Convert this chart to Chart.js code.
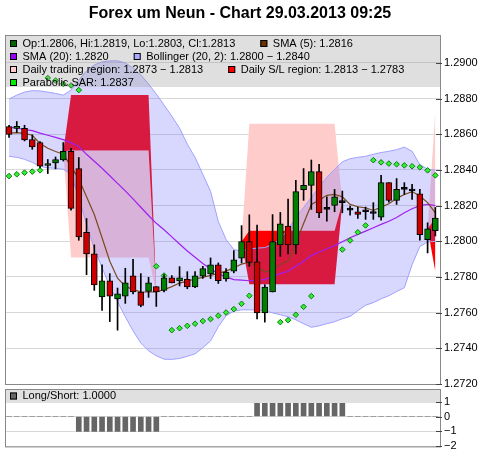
<!DOCTYPE html>
<html>
<head>
<meta charset="utf-8">
<title>Forex um Neun</title>
<script src="https://cdn.jsdelivr.net/npm/chart.js@4.4.1/dist/chart.umd.min.js"></script>
<style>
  html, body { margin: 0; padding: 0; background: #fff; }
  #box { position: relative; width: 480px; height: 457px; }
  #box canvas { position: absolute; left: 0; top: 0; }
</style>
</head>
<body>
<div id="box">
  <canvas id="price" width="480" height="457"></canvas>
  <canvas id="signal" width="480" height="457"></canvas>
</div>
<script>
const chartTitle = "Forex um Neun - Chart 29.03.2013 09:25";

// hourly EUR/USD bars, oldest first
const opens = [1.28644,1.28633,1.28633,1.28571,1.28554,1.28425,1.28439,1.28456,1.28505,1.28408,
  1.28050,1.27930,1.27688,1.27778,1.27677,1.27693,1.27806,1.27716,1.27719,1.27746,
  1.27725,1.27796,1.27778,1.27789,1.27744,1.27804,1.27817,1.27868,1.27789,1.27832,
  1.27905,1.27999,1.27885,1.27598,1.27716,1.27980,1.28085,1.27980,1.28290,1.28314,
  1.28391,1.28179,1.28201,1.28217,1.28175,1.28166,1.28166,1.28156,1.28136,1.28329,
  1.28230,1.28291,1.28282,1.28267,1.28010,1.28060];
const highs = [1.28651,1.28672,1.28651,1.28597,1.28560,1.28459,1.28473,1.28554,1.28522,1.28470,
  1.28128,1.27980,1.27868,1.27819,1.27738,1.27849,1.27899,1.27819,1.27798,1.27746,
  1.27813,1.27808,1.27858,1.27830,1.27830,1.27860,1.27907,1.27879,1.27847,1.27948,
  1.28088,1.28149,1.28091,1.27757,1.28150,1.28162,1.28237,1.28342,1.28408,1.28456,
  1.28432,1.28250,1.28291,1.28282,1.28197,1.28192,1.28192,1.28217,1.28370,1.28329,
  1.28352,1.28329,1.28320,1.28291,1.28104,1.28190];
const lows = [1.28582,1.28610,1.28563,1.28516,1.28411,1.28380,1.28406,1.28450,1.28175,1.28006,
  1.27813,1.27725,1.27612,1.27550,1.27502,1.27652,1.27705,1.27633,1.27686,1.27635,
  1.27716,1.27767,1.27750,1.27734,1.27740,1.27792,1.27791,1.27764,1.27776,1.27823,
  1.27879,1.27860,1.27565,1.27547,1.27716,1.27916,1.27930,1.27930,1.28230,1.28179,
  1.28132,1.28113,1.28166,1.28160,1.28147,1.28128,1.28123,1.28123,1.28119,1.28220,
  1.28207,1.28263,1.28235,1.28006,1.27935,1.28030];
const closes = [1.28599,1.28642,1.28569,1.28529,1.28421,1.28432,1.28459,1.28505,1.28185,1.28025,
  1.27930,1.27755,1.27778,1.27693,1.27705,1.27767,1.27716,1.27640,1.27767,1.27716,
  1.27795,1.27767,1.27796,1.27744,1.27806,1.27847,1.27868,1.27779,1.27828,1.27896,
  1.27999,1.27882,1.27598,1.27744,1.27999,1.28098,1.27980,1.28279,1.28314,1.28391,
  1.28160,1.28179,1.28250,1.28217,1.28175,1.28151,1.28166,1.28156,1.28329,1.28230,
  1.28291,1.28291,1.28282,1.28038,1.28070,1.28130];

const sma5 = [1.28607,1.28610,1.28605,1.28595,1.28549,1.28522,1.28504,1.28488,1.28420,1.28350,
  1.28250,1.28150,1.28020,1.27888,1.27793,1.27748,1.27729,1.27717,1.27716,1.27716,
  1.27729,1.27746,1.27766,1.27777,1.27789,1.27798,1.27809,1.27820,1.27833,1.27852,
  1.27872,1.27883,1.27856,1.27828,1.27844,1.27870,1.27889,1.27990,1.28100,1.28207,
  1.28230,1.28258,1.28263,1.28250,1.28207,1.28194,1.28188,1.28173,1.28192,1.28211,
  1.28241,1.28263,1.28279,1.28254,1.28217,1.28160];
const sma20 = [1.28640,1.28634,1.28627,1.28621,1.28607,1.28595,1.28583,1.28570,1.28552,1.28532,
  1.28488,1.28449,1.28410,1.28368,1.28325,1.28283,1.28238,1.28191,1.28145,1.28101,
  1.28065,1.28025,1.27985,1.27946,1.27911,1.27876,1.27846,1.27818,1.27801,1.27785,
  1.27782,1.27779,1.27782,1.27785,1.27804,1.27819,1.27832,1.27860,1.27888,1.27920,
  1.27940,1.27957,1.27976,1.27998,1.28020,1.28039,1.28057,1.28076,1.28095,1.28113,
  1.28134,1.28160,1.28183,1.28200,1.28207,1.28200];
const bandUpper = [1.28798,1.28820,1.28837,1.28845,1.28843,1.28837,1.28829,1.28820,1.28848,1.28905,
  1.28955,1.28989,1.29006,1.29012,1.29012,1.29000,1.28972,1.28933,1.28882,1.28826,
  1.28764,1.28702,1.28635,1.28545,1.28471,1.28376,1.28280,1.28111,1.28010,1.27954,
  1.27945,1.27957,1.27962,1.27965,1.27982,1.28016,1.28066,1.28134,1.28190,1.28246,
  1.28303,1.28359,1.28404,1.28446,1.28463,1.28471,1.28477,1.28488,1.28498,1.28505,
  1.28514,1.28528,1.28505,1.28430,1.28405,1.28400];
const bandLower = [1.28477,1.28471,1.28460,1.28443,1.28421,1.28412,1.28410,1.28404,1.28376,1.28246,
  1.28095,1.27960,1.27853,1.27746,1.27661,1.27577,1.27498,1.27430,1.27386,1.27358,
  1.27339,1.27338,1.27343,1.27355,1.27369,1.27403,1.27442,1.27521,1.27583,1.27608,
  1.27616,1.27616,1.27616,1.27611,1.27599,1.27588,1.27577,1.27560,1.27538,1.27518,
  1.27526,1.27538,1.27549,1.27566,1.27579,1.27611,1.27642,1.27656,1.27678,1.27695,
  1.27718,1.27740,1.27869,1.27971,1.27996,1.28000];
// parabolic SAR, null where the dot sits under a trading window
const sar = [1.28366,1.28376,1.28385,1.28391,1.28398,1.28916,1.28902,1.28883,1.28874,1.28848,
  null,null,null,null,null,null,null,null,null,1.27860,
  1.27808,1.27502,1.27513,1.27526,1.27538,1.27553,1.27564,1.27583,1.27601,1.27620,
  1.27650,1.27695,null,null,null,1.27547,1.27558,1.27588,1.27633,1.27693,
  null,null,null,1.27954,1.28005,1.28051,1.28089,1.28455,1.28443,1.28436,
  1.28432,1.28426,1.28421,1.28415,1.28398,1.28370];

const longShort = [0,0,0,0,0,0,0,0,0,-1,
  -1,-1,-1,-1,-1,-1,-1,-1,-1,-1,
  0,0,0,0,0,0,0,0,0,0,
  0,0,1,1,1,1,1,1,1,1,
  1,1,1,1,0,0,0,0,0,0,
  0,0,0,0,0,0];
const signalNow = 1;

// daily trading windows: first/last bar (null = still open), levels
const windowStart = [7, 30, 54];
const windowEnd = [19, 43, null];
const targetLevel = [1.2791, 1.2866, 1.2873];
const entryLevel = [1.2851, 1.2806, 1.2813];
const stopLevel = [1.2882, 1.2776, 1.2783];

const priceTicks = { min: 1.2720, max: 1.29157, step: 0.002 };
const signalTicks = { min: -2, max: 1.84, step: 1 };

const FONT = "'Liberation Sans', Arial, sans-serif";
Chart.defaults.font.family = FONT;
Chart.defaults.font.size = 11;
Chart.defaults.color = '#000';

const bars = opens.map((_, i) => i);
const xy = arr => arr.map((v, i) => ({ x: i, y: v }));
const last = arr => arr[arr.length - 1];
const f4 = v => v.toFixed(4);

// window bounds: each window starts and ends pinched at that bar's close
const tradeA = bars.map(() => null), tradeB = bars.map(() => null);
const slA = bars.map(() => null), slB = bars.map(() => null);
windowStart.forEach((s, w) => {
  const open = windowEnd[w] === null;
  const e = open ? bars.length - 1 : windowEnd[w];
  for (let i = s; i <= e; i++) {
    const pinch = i === s || (i === e && !open);
    tradeA[i] = pinch ? closes[i] : targetLevel[w];
    tradeB[i] = pinch ? closes[i] : entryLevel[w];
    slA[i] = pinch ? closes[i] : stopLevel[w];
    slB[i] = pinch ? closes[i] : entryLevel[w];
  }
});

const bodyColors = bars.map(i =>
  closes[i] > opens[i] ? '#008000' : closes[i] < opens[i] ? '#cc0000' : '#000');

const nw = bars.length - 1;
const lastWin = windowStart.length - 1;
const legendRows = [
  [['#006600', 'Op:' + f4(opens[nw]) + ', Hi:' + f4(highs[nw]) + ', Lo:' + f4(lows[nw]) + ', Cl:' + f4(closes[nw])],
   ['#663300', 'SMA (5): ' + f4(last(sma5))]],
  [['#9900ff', 'SMA (20): ' + f4(last(sma20))],
   ['#aaaaff', 'Bollinger (20, 2): ' + f4(last(bandLower)) + ' \u2212 ' + f4(last(bandUpper))]],
  [['#ffcccc', 'Daily trading region: ' + f4(targetLevel[lastWin]) + ' \u2212 ' + f4(entryLevel[lastWin])],
   ['#ff0000', 'Daily S/L region: ' + f4(entryLevel[lastWin]) + ' \u2212 ' + f4(stopLevel[lastWin])]],
  [['#00ee00', 'Parabolic SAR: ' + f4(last(sar))]]
];

function drawKey(ctx, x, y, color) {
  ctx.fillStyle = color;
  ctx.fillRect(x, y - 3.5, 7, 7);
  ctx.strokeStyle = '#000';
  ctx.lineWidth = 1;
  ctx.strokeRect(x + 0.5, y - 3, 6, 6);
}

function drawFrame(ctx, a, scale) {
  ctx.strokeStyle = '#888';
  ctx.lineWidth = 1;
  ctx.strokeRect(a.left + 0.5, a.top + 0.5, a.right - a.left, a.bottom - a.top);
  ctx.strokeStyle = '#444';
  scale.ticks.forEach(t => {
    const py = Math.round(scale.getPixelForValue(t.value)) + 0.5;
    ctx.beginPath();
    ctx.moveTo(a.right - 4, py);
    ctx.lineTo(a.right + 2, py);
    ctx.stroke();
  });
}

const pricePanel = {
  id: 'pricePanel',
  afterDraw(chart) {
    const { ctx, chartArea: a } = chart;
    ctx.save();
    ctx.fillStyle = 'rgba(150,150,150,0.3)';
    ctx.fillRect(a.left, a.top, a.right - a.left, 52);
    ctx.font = '11px ' + FONT;
    ctx.textBaseline = 'middle';
    legendRows.forEach((row, r) => {
      let x = a.left + 5;
      const ty = a.top + 8.5 + r * 13;
      row.forEach(([color, text]) => {
        drawKey(ctx, x, ty, color);
        ctx.fillStyle = '#000';
        ctx.fillText(text, x + 12.5, ty);
        x += 12.5 + ctx.measureText(text).width + 25;
      });
    });
    drawFrame(ctx, a, chart.scales.y);
    ctx.fillStyle = '#000';
    ctx.font = 'bold 16px ' + FONT;
    ctx.textAlign = 'center';
    ctx.fillText(chartTitle, 240, 14);
    ctx.restore();
  }
};

const signalPanel = {
  id: 'signalPanel',
  afterDraw(chart) {
    const { ctx, chartArea: a } = chart;
    ctx.save();
    ctx.fillStyle = '#e0e0e0';
    ctx.fillRect(a.left, a.top, a.right - a.left, 14);
    drawKey(ctx, a.left + 5, a.top + 7, '#666666');
    ctx.fillStyle = '#000';
    ctx.font = '11px ' + FONT;
    ctx.textBaseline = 'middle';
    ctx.fillText('Long/Short: ' + signalNow.toFixed(4), a.left + 17.5, a.top + 7);
    drawFrame(ctx, a, chart.scales.y);
    ctx.restore();
  }
};

const xScale = { type: 'linear', min: -0.52, max: 55.6, bounds: 'data', offset: false, display: false };
const rightAxis = (t, fmt) => ({
  type: 'linear', position: 'right', min: t.min, max: t.max, bounds: 'data',
  afterFit(scale) { scale.width = 40; },
  border: { display: false },
  grid: { color: '#d8d8d8', drawTicks: false },
  ticks: { stepSize: t.step, includeBounds: false, padding: 4, color: '#000', callback: fmt }
});
const line = { type: 'line', pointRadius: 0, tension: 0, fill: false };

new Chart(document.getElementById('price'), {
  type: 'bar',
  data: {
    datasets: [
      { ...line, data: xy(tradeA), fill: '+1', backgroundColor: '#ffcccc', borderWidth: 0, order: 20 },
      { ...line, data: xy(tradeB), borderWidth: 0, order: 19 },
      { ...line, data: xy(slA), fill: '+1', backgroundColor: '#ff0000', borderWidth: 0, order: 18 },
      { ...line, data: xy(slB), borderWidth: 0, order: 17 },
      { ...line, data: xy(bandUpper), fill: '+1', backgroundColor: 'rgba(100,100,255,0.25)',
        borderColor: '#a0a0ff', borderWidth: 1, order: 16 },
      { ...line, data: xy(bandLower), borderColor: '#a0a0ff', borderWidth: 1, order: 15 },
      { ...line, data: xy(sma20), borderColor: '#a020f0', borderWidth: 1.2, order: 5 },
      { ...line, data: xy(sma5), borderColor: '#7b4a1e', borderWidth: 1.2, order: 4 },
      { type: 'line', data: xy(sar), showLine: false, pointStyle: 'rectRot', pointRadius: 2.8,
        pointBackgroundColor: '#33ee33', pointBorderColor: '#0a7a0a', pointBorderWidth: 1, order: 3 },
      { type: 'bar', data: bars.map(i => ({ x: i, y: [lows[i], highs[i]] })),
        backgroundColor: '#000', barThickness: 1, grouped: false, order: 2 },
      { type: 'bar', data: bars.map(i => ({ x: i, y: [opens[i], closes[i]] })),
        backgroundColor: bodyColors, borderColor: '#000', borderWidth: 1, borderSkipped: false,
        barThickness: 6, minBarLength: 2, grouped: false, order: 1 }
    ]
  },
  options: {
    responsive: false,
    animation: false,
    layout: { padding: { left: 5, right: 0, top: 35, bottom: 73 } },
    plugins: { legend: { display: false }, tooltip: { enabled: false }, title: { display: false } },
    scales: { x: xScale, y: rightAxis(priceTicks, v => v.toFixed(4)) }
  },
  plugins: [pricePanel]
});

new Chart(document.getElementById('signal'), {
  type: 'bar',
  data: {
    datasets: [{ data: xy(longShort), backgroundColor: '#666666', barThickness: 5, grouped: false }]
  },
  options: {
    responsive: false,
    animation: false,
    layout: { padding: { left: 5, right: 0, top: 389, bottom: 9 } },
    plugins: { legend: { display: false }, tooltip: { enabled: false } },
    scales: {
      x: xScale,
      y: rightAxis(signalTicks, v => (v < 0 ? '\u2212' + Math.abs(v) : String(v)))
    }
  },
  plugins: [signalPanel]
});
</script>
</body>
</html>
